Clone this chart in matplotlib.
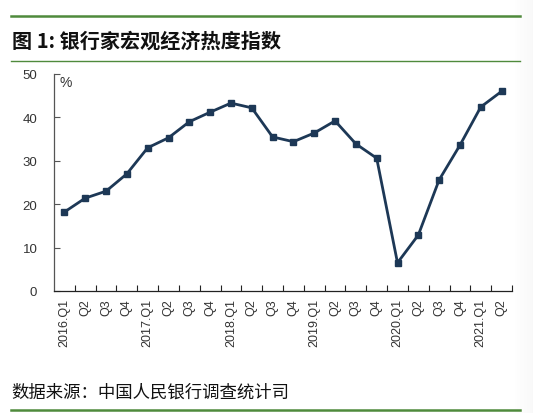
import matplotlib.pyplot as plt
import numpy as np

plt.rcParams['font.family'] = ['Liberation Sans', 'Noto Sans CJK SC']

# quarters and index values
quarters = ["2016.Q1", "Q2", "Q3", "Q4",
            "2017.Q1", "Q2", "Q3", "Q4",
            "2018.Q1", "Q2", "Q3", "Q4",
            "2019.Q1", "Q2", "Q3", "Q4",
            "2020.Q1", "Q2", "Q3", "Q4",
            "2021.Q1", "Q2"]
heat_index = [18.2, 21.4, 23.0, 27.0,
              33.0, 35.3, 39.0, 41.2,
              43.3, 42.2, 35.5, 34.4,
              36.4, 39.2, 33.9, 30.6,
              6.5, 12.9, 25.6, 33.6,
              42.4, 46.0]
y_ticks = [0, 10, 20, 30, 40, 50]

green = "#4f8a3c"
navy = "#1d3856"

fig = plt.figure(figsize=(5.33, 4.14), dpi=100)

# header / footer rules
fig.add_artist(plt.Line2D([0.02, 0.975], [1 - 17 / 414] * 2, color=green, lw=1.8))
fig.add_artist(plt.Line2D([0.02, 0.975], [1 - 62 / 414] * 2, color=green, lw=1.0))
fig.add_artist(plt.Line2D([0.02, 0.975], [1 - 411 / 414] * 2, color=green, lw=1.8))

fig.text(0.022, 1 - 41 / 414, "图 1: 银行家宏观经济热度指数", fontsize=14.5, weight="bold",
         family=['Noto Sans CJK SC'], va="center", ha="left", color="#111111")
fig.text(0.022, 1 - 393 / 414, "数据来源：中国人民银行调查统计司", fontsize=12.5,
         family=['Noto Sans CJK SC'], va="center", ha="left", color="#111111")

ax = fig.add_axes([54 / 533, 1 - 292 / 414, 458 / 533, 217 / 414])
x = np.arange(len(quarters))
ax.plot(x, heat_index, color=navy, lw=2.0, marker="s", ms=4, mec=navy, mfc=navy, zorder=3)

ax.set_xlim(-0.5, len(quarters) - 0.5)
ax.set_ylim(0, 50)
ax.set_yticks(y_ticks)
ax.tick_params(axis="y", direction="in", length=4, width=0.8, color="#555555",
               labelsize=9.5, labelcolor="#333333", pad=12)

# category boundary ticks pointing inward, labels centred on the points
ax.set_xticks(np.arange(0.5, len(quarters) - 0.5 + 1, 1.0))
ax.set_xticklabels([])
ax.tick_params(axis="x", which="major", direction="in", length=4, width=0.8, color="#222222")
ax.set_xticks(x, minor=True)
ax.set_xticklabels(quarters, minor=True, rotation=90, fontsize=9, color="#333333")
ax.tick_params(axis="x", which="minor", length=0, pad=5)

for side in ["top", "right"]:
    ax.spines[side].set_visible(False)
ax.spines["left"].set_color("#555555")
ax.spines["bottom"].set_color("#222222")
ax.spines["left"].set_linewidth(0.9)
ax.spines["bottom"].set_linewidth(0.9)

ax.text(0.012, 0.995, "%", transform=ax.transAxes, fontsize=10, color="#333333", va="top", ha="left")

# scanned page shadow on the right edge
grad = np.linspace(1.0, 0.0, 64).reshape(1, -1)
sax = fig.add_axes([515 / 533, 0, 18 / 533, 1])
sax.imshow(grad, aspect="auto", cmap="Greys_r", vmin=-6, vmax=1, alpha=0.35)
sax.axis("off")

fig.savefig("out.png", dpi=100)
